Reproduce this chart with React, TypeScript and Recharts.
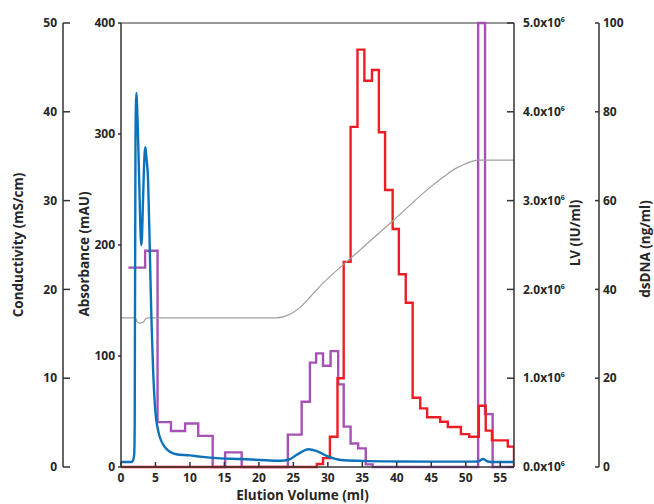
import React from 'react';
import { LineChart, Line, XAxis, YAxis, ReferenceLine } from 'recharts';

document.body.style.margin = '0';

const INK = '#262626';
const AXIS = '#333333';
const FONT = '"Open Sans", sans-serif';

const volumeTicks = [0, 5, 10, 15, 20, 25, 30, 35, 40, 45, 50, 55];
const absorbanceTicks = [0, 100, 200, 300, 400];
const conductivityTicks = [0, 10, 20, 30, 40, 50];
const lvTicks = [0, 1e6, 2e6, 3e6, 4e6, 5e6];
const dnaTicks = [0, 20, 40, 60, 80, 100];

// UV trace: [elution volume ml, absorbance mAU]
const uvTrace: [number, number][] = [
  [0, 4.5], [1.5, 4.5], [1.75, 6], [1.92, 12], [1.99, 40], [2.02, 120], [2.06, 200],
  [2.1, 290], [2.16, 325], [2.23, 337], [2.3, 330], [2.5, 291], [2.7, 243], [2.85, 208],
  [2.95, 200], [3.05, 208], [3.15, 230], [3.3, 263], [3.42, 282], [3.54, 288], [3.7, 278],
  [3.93, 258], [4.17, 198], [4.27, 170], [4.42, 132], [4.66, 87], [4.9, 57], [5.38, 33],
  [6.35, 18], [8, 11.5], [10, 10.5], [11.5, 9.3], [14.4, 7.8], [17.3, 7.2], [20.2, 6.3],
  [23.1, 5.6], [24.3, 6.5], [25.5, 11], [27.2, 16], [28.5, 14], [30, 9.5], [31.9, 6.3],
  [35, 5.5], [40, 5], [45, 4.8], [50, 4.8], [51.8, 5], [52.5, 7.2], [53.2, 5], [54, 4.5],
  [57, 4.5],
];

// conductivity: [ml, mS/cm]
const conductivityTrace: [number, number][] = [
  [0, 16.8], [2.1, 16.8], [2.3, 16.4], [2.7, 16.2], [3.2, 16.3], [3.6, 16.7], [3.9, 16.8],
  [22.5, 16.8], [24.5, 17.2], [26, 18], [27.5, 19.2], [28.9, 20.4], [33.3, 23.5],
  [39.4, 27.7], [45, 31.6], [47, 32.8], [48.5, 33.6], [49.8, 34.1], [51, 34.45], [52, 34.55],
  [57, 34.55],
];

// LV titre per fraction: [fraction start ml, IU/ml]
const lvFractions: [number, number][] = [
  [0, 0], [28.4, 0.034e6], [29.3, 0.1e6], [30.3, 0.34e6], [31.4, 1.0e6], [32.3, 2.31e6],
  [33.3, 3.83e6], [34.3, 4.7e6], [35.3, 4.35e6], [36.4, 4.47e6], [37.4, 3.77e6],
  [38.3, 3.12e6], [39.4, 2.68e6], [40.3, 2.17e6], [41.3, 1.85e6], [42.3, 0.78e6],
  [43.4, 0.66e6], [44.4, 0.56e6], [46.3, 0.51e6], [47.4, 0.45e6], [49.3, 0.37e6],
  [50.5, 0.34e6], [51.9, 0.69e6], [52.9, 0.41e6], [53.8, 0.3e6], [56.1, 0.23e6], [57, 0],
];

// dsDNA per fraction: [fraction start ml, ng/ml]
const dnaFractions: [number, number][] = [
  [1.07, 44.9], [3.5, 48.7], [5.3, 10.1], [7.25, 8.1], [9.3, 9.8], [11.2, 7.0], [13.3, 0],
  [15.1, 3.3], [17.5, 0], [24.2, 7.3], [26.2, 14.7], [27.4, 23.5], [28.3, 25.6],
  [29.3, 22.8], [30.4, 26.1], [31.5, 18.6], [32.3, 9.1], [33.3, 5.3], [34.4, 4.2],
  [35.5, 0.6], [36.5, 0], [51.8, 100], [52.8, 11.9], [53.9, 0], [57, 0],
];

const toPoints = (pairs: [number, number][]) => pairs.map(([x, y]) => ({ x, y }));

const textStyle = { fontFamily: FONT, fontWeight: 700, fill: INK };

function LeftTick({ x, y, payload, len, inward }: any) {
  return (
    <g>
      <line x1={inward ? x : x - len} x2={inward ? x + len : x} y1={y} y2={y} stroke={AXIS} strokeWidth={1.5} />
      <text x={x - 6} y={y} dy="0.35em" textAnchor="end" fontSize={12} {...textStyle}>
        {payload.value}
      </text>
    </g>
  );
}

function RightTick({ x, y, payload, len, gap, sci }: any) {
  const v = payload.value;
  return (
    <g>
      <line x1={x - len} x2={x} y1={y} y2={y} stroke={AXIS} strokeWidth={1.5} />
      <text x={x + gap} y={y} dy="0.35em" textAnchor="start" fontSize={12} {...textStyle}>
        {sci ? (v / 1e6).toFixed(1) + 'x10' : v}
        {sci && <tspan dy={-5} fontSize={7}>6</tspan>}
      </text>
    </g>
  );
}

function BottomTick({ x, y, payload }: any) {
  return (
    <g>
      <line x1={x} x2={x} y1={y - 5} y2={y} stroke={AXIS} strokeWidth={1.5} />
      <text x={x} y={y + 11} dy="0.35em" textAnchor="middle" fontSize={12} {...textStyle}>
        {payload.value}
      </text>
    </g>
  );
}

function AxisTitle({ viewBox, text, dx, dy, rotate }: any) {
  const { x, y, width, height } = viewBox;
  const cx = rotate ? x + dx : x + width / 2 + dx;
  const cy = rotate ? y + height / 2 + dy : y + dy;
  return (
    <text
      x={cx}
      y={cy}
      textAnchor="middle"
      dominantBaseline="central"
      transform={rotate ? `rotate(-90 ${cx} ${cy})` : undefined}
      fontSize={13.5}
      {...textStyle}
    >
      {text}
    </text>
  );
}

export default function App() {
  return (
    <LineChart width={654} height={504} margin={{ top: 23, right: 0, bottom: 0, left: 0 }}>
      <XAxis
        type="number"
        dataKey="x"
        domain={[0, 57]}
        ticks={volumeTicks}
        interval={0}
        allowDataOverflow
        height={37}
        tickSize={0}
        tickMargin={0}
        tickLine={false}
        axisLine={{ stroke: AXIS, strokeWidth: 1.5 }}
        tick={(p: any) => <BottomTick {...p} />}
        label={<AxisTitle text="Elution Volume (ml)" dx={-15} dy={28} />}
      />
      <YAxis
        yAxisId="y-abs"
        domain={[0, 400]}
        ticks={absorbanceTicks}
        interval={0}
        width={58}
        tickSize={0}
        tickMargin={0}
        tickLine={false}
        axisLine={{ stroke: AXIS, strokeWidth: 1.5 }}
        tick={(p: any) => <LeftTick {...p} len={3} />}
        label={<AxisTitle text="Absorbance (mAU)" rotate dx={21} dy={9} />}
      />
      <YAxis
        yAxisId="y-cond"
        domain={[0, 50]}
        ticks={conductivityTicks}
        interval={0}
        width={63}
        tickSize={0}
        tickMargin={0}
        tickLine={false}
        axisLine={{ stroke: AXIS, strokeWidth: 1.5 }}
        tick={(p: any) => <LeftTick {...p} len={7} inward />}
        label={<AxisTitle text="Conductivity (mS/cm)" rotate dx={18} dy={0} />}
      />
      <YAxis
        yAxisId="y-lv"
        orientation="right"
        domain={[0, 5e6]}
        ticks={lvTicks}
        interval={0}
        width={85}
        tickSize={0}
        tickMargin={0}
        tickLine={false}
        axisLine={{ stroke: AXIS, strokeWidth: 1.5 }}
        tick={(p: any) => <RightTick {...p} len={7} gap={9} sci />}
        label={<AxisTitle text="LV (IU/ml)" rotate dx={61} dy={-12} />}
      />
      <YAxis
        yAxisId="y-ng"
        orientation="right"
        domain={[0, 100]}
        ticks={dnaTicks}
        interval={0}
        width={55}
        tickSize={0}
        tickMargin={0}
        tickLine={false}
        axisLine={{ stroke: AXIS, strokeWidth: 1.5 }}
        tick={(p: any) => <RightTick {...p} len={4} gap={4} />}
        label={<AxisTitle text="dsDNA (ng/ml)" rotate dx={46} dy={4} />}
      />
      <ReferenceLine yAxisId="y-abs" y={400} stroke={AXIS} strokeWidth={1.2} />
      <Line
        data={toPoints(dnaFractions)}
        dataKey="y"
        yAxisId="y-ng"
        type="stepAfter"
        stroke="#A552B4"
        strokeWidth={2.4}
        dot={false}
        isAnimationActive={false}
      />
      <Line
        data={toPoints(lvFractions)}
        dataKey="y"
        yAxisId="y-lv"
        type="stepAfter"
        stroke="#EE1D25"
        strokeWidth={2.4}
        dot={false}
        isAnimationActive={false}
      />
      <Line
        data={toPoints(conductivityTrace)}
        dataKey="y"
        yAxisId="y-cond"
        type="monotone"
        stroke="#9E9E9E"
        strokeWidth={1.2}
        dot={false}
        isAnimationActive={false}
      />
      <Line
        data={toPoints(uvTrace)}
        dataKey="y"
        yAxisId="y-abs"
        type="monotone"
        stroke="#0D72BA"
        strokeWidth={2.4}
        dot={false}
        isAnimationActive={false}
      />
    </LineChart>
  );
}
